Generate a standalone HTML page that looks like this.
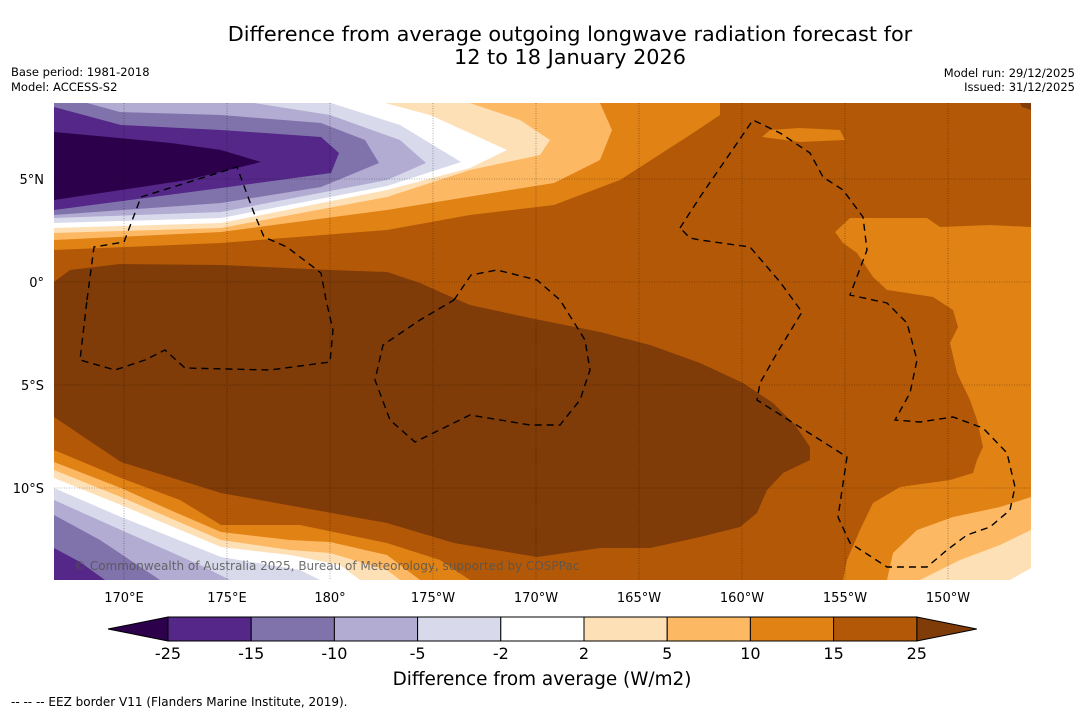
<!DOCTYPE html>
<html><head><meta charset="utf-8">
<style>
html,body{margin:0;padding:0;background:#fff;}
body{width:1085px;height:713px;overflow:hidden;font-family:"DejaVu Sans","Liberation Sans",sans-serif;}
svg text{font-family:"DejaVu Sans","Liberation Sans",sans-serif;}
</style></head>
<body>
<svg id="chart" width="1085" height="713" viewBox="0 0 1085 713" xmlns="http://www.w3.org/2000/svg">
<text x="570" y="41" font-size="20.8" text-anchor="middle" fill="#000">Difference from average outgoing longwave radiation forecast for</text>
<text x="570" y="64" font-size="20.8" text-anchor="middle" fill="#000">12 to 18 January 2026</text>
<text x="11" y="76" font-size="11.5">Base period: 1981-2018</text>
<text x="11" y="91" font-size="11.5">Model: ACCESS-S2</text>
<text x="1075" y="77" font-size="11.5" text-anchor="end">Model run: 29/12/2025</text>
<text x="1075" y="91" font-size="11.5" text-anchor="end">Issued: 31/12/2025</text>

<defs><clipPath id="mapclip"><rect x="54" y="103" width="977" height="477"/></clipPath></defs>
<g id="map" clip-path="url(#mapclip)">
<rect x="54" y="103" width="977" height="477" fill="#b35806"/>
<polygon fill="#e08214" points="54,103 720,103 720,115 690,135 620,180 554,205 470,215 387,230 221,243 54,250"/>
<polygon fill="#fdb863" points="54,103 600,103 612,130 600,160 554,183 387,210 221,232 54,240"/>
<polygon fill="#fee0b6" points="54,103 470,103 520,120 550,140 540,155 470,170 387,197 221,228 54,233"/>
<polygon fill="#ffffff" points="54,103 385,103 430,115 507,150 470,168 387,190 221,223 54,228"/>
<polygon fill="#d8daeb" points="54,103 331,103 400,125 461,162 387,186 221,218 54,223"/>
<polygon fill="#b2abd2" points="54,103 254,103 330,115 400,140 426,163 387,180 221,212 54,218"/>
<polygon fill="#8073ac" points="54,103 87,103 120,112 221,115 321,123 365,140 379,163 321,187 221,203 54,215"/>
<polygon fill="#542788" points="54,107 121,125 221,130 321,137 339,153 331,173 221,188 54,210"/>
<polygon fill="#2d004b" points="54,132 87,135 171,143 221,150 261,162 187,180 121,190 54,200"/>
<polygon fill="#e08214" points="762,137 770,130 800,128 840,130 845,140 800,142"/>
<polygon fill="#7f3b08" points="1020,103 1031,103 1031,110 1022,107"/>
<polygon fill="#7f3b08" points="54,282 70,270 120,264 221,265 330,270 387,272 420,283 440,292 470,305 530,318 600,332 650,345 700,363 743,383 773,403 795,425 810,447 810,460 783,473 767,490 757,513 740,527 700,537 650,548 600,548 537,557 454,543 387,523 221,493 121,462 54,417"/>
<polygon fill="#e08214" points="54,450 121,478 180,500 221,525 300,525 387,543 440,560 470,580 54,580"/>
<polygon fill="#fdb863" points="54,462 121,488 170,510 221,532 290,540 330,542 387,555 420,580 54,580"/>
<polygon fill="#fee0b6" points="54,470 121,497 221,540 290,550 330,553 387,570 400,580 54,580"/>
<polygon fill="#ffffff" points="54,478 121,505 221,547 290,555 340,565 360,580 54,580"/>
<polygon fill="#d8daeb" points="54,488 121,517 221,557 300,570 320,580 54,580"/>
<polygon fill="#b2abd2" points="54,500 121,530 200,565 230,580 54,580"/>
<polygon fill="#8073ac" points="54,515 100,540 160,580 54,580"/>
<polygon fill="#542788" points="54,548 80,562 105,580 54,580"/>
<polygon fill="#e08214" points="1031,227 990,225 940,227 927,218 850,218 835,232 843,243 857,253 873,277 887,290 933,297 953,310 958,327 950,343 957,373 970,400 977,420 983,447 977,460 973,473 950,480 900,487 873,503 860,530 847,560 843,580 1031,580"/>
<polygon fill="#fdb863" points="887,580 893,553 917,530 953,517 1000,507 1031,497 1031,580"/>
<polygon fill="#fee0b6" points="920,580 960,560 1000,545 1031,530 1031,580"/>
<polygon fill="#ffffff" points="1010,580 1031,568 1031,580"/>
<g id="grid" stroke="#000" stroke-opacity="0.55" stroke-width="0.6" stroke-dasharray="1,1.5"></g>
<g fill="none" stroke="#000" stroke-width="1.4" stroke-dasharray="7,5">
<polyline points="87,300 94,247 124,242 141,197 237,167 254,213 264,237 287,247 321,273 326,300 333,330 330,362 270,370 185,368 165,350 145,360 115,370 80,360 87,300"/>
<polyline points="454,300 471,275 497,270 537,280 560,300 585,340 590,370 580,400 560,425 530,425 470,415 415,442 390,420 375,380 383,345 420,320 454,300"/>
<polyline points="680,228 700,197 753,120 780,133 810,153 823,177 843,190 863,217 867,250 850,295 887,303 907,323 917,360 910,393 895,420 920,422 953,417 983,428 1007,453 1015,487 1010,510 990,527 967,535 947,550 927,567 887,567 850,543 838,517 847,457 757,400 760,383 777,353 802,312 780,282 750,247 700,240 690,238 680,228"/>
</g>
<text x="74" y="570" font-size="12" fill="#555" fill-opacity="0.85">© Commonwealth of Australia 2025, Bureau of Meteorology, supported by COSPPac</text>
</g>
<g id="axislabels" font-size="13"></g>
<g id="colorbar"></g>
<text x="542" y="685" font-size="18.4" text-anchor="middle">Difference from average (W/m2)</text>
<text x="11" y="706" font-size="12">--  --  -- EEZ border V11 (Flanders Marine Institute, 2019).</text>
</svg>
<script>
var lonTicks = ["170°E","175°E","180°","175°W","170°W","165°W","160°W","155°W","150°W"];
var lonValues = [170,175,180,185,190,195,200,205,210];
var latTicks = ["5°N","0°","5°S","10°S"];
var latValues = [5,0,-5,-10];
var cbLevels = [-25,-15,-10,-5,-2,2,5,10,15,25];
var cbColors = ["#542788","#8073ac","#b2abd2","#d8daeb","#ffffff","#fee0b6","#fdb863","#e08214","#b35806"];
var cbUnder = "#2d004b";
var cbOver = "#7f3b08";
var NS = "http://www.w3.org/2000/svg";
function lonX(l){ return 124 + (l-170)*20.6; }
function latY(l){ return 282 - l*20.6; }
function mk(tag, attrs, parent){ var e=document.createElementNS(NS,tag); for(var k in attrs) e.setAttribute(k,attrs[k]); parent.appendChild(e); return e; }
var grid=document.getElementById('grid'), al=document.getElementById('axislabels'), cb=document.getElementById('colorbar');
lonValues.forEach(function(v,i){
  var x=lonX(v);
  var ln=mk('line',{x1:x,x2:x,y1:103,y2:580},grid);
  
  
  var t=mk('text',{x:x,y:602,'text-anchor':'middle'},al); t.textContent=lonTicks[i];
  
  
});
latValues.forEach(function(v,i){
  var y=latY(v);
  var ln=mk('line',{x1:54,x2:1031,y1:y,y2:y},grid);
  
  
  var t=mk('text',{x:44,y:y+5,'text-anchor':'end'},al); t.textContent=latTicks[i];
  
  
});
var cbX0=168, cbW=83.2, cbY=617, cbH=24;
function cbx(i){ return cbX0 + i*cbW; }
var under=mk('polygon',{points:(108)+','+(cbY+cbH/2)+' '+cbX0+','+cbY+' '+cbX0+','+(cbY+cbH),fill:cbUnder,stroke:'#000','stroke-width':1},cb);


var xe=cbx(cbColors.length);
var over=mk('polygon',{points:xe+','+cbY+' '+(xe+60)+','+(cbY+cbH/2)+' '+xe+','+(cbY+cbH),fill:cbOver,stroke:'#000','stroke-width':1},cb);


cbColors.forEach(function(c,i){
  var r=mk('rect',{x:cbx(i),y:cbY,width:cbW,height:cbH,fill:c,stroke:'#000','stroke-width':1},cb);
  
  
});
cbLevels.forEach(function(v,i){
  var t=mk('text',{x:cbx(i),y:659,'font-size':16,'text-anchor':'middle'},cb); t.textContent=String(v);
  
  
});
</script>
</body></html>
